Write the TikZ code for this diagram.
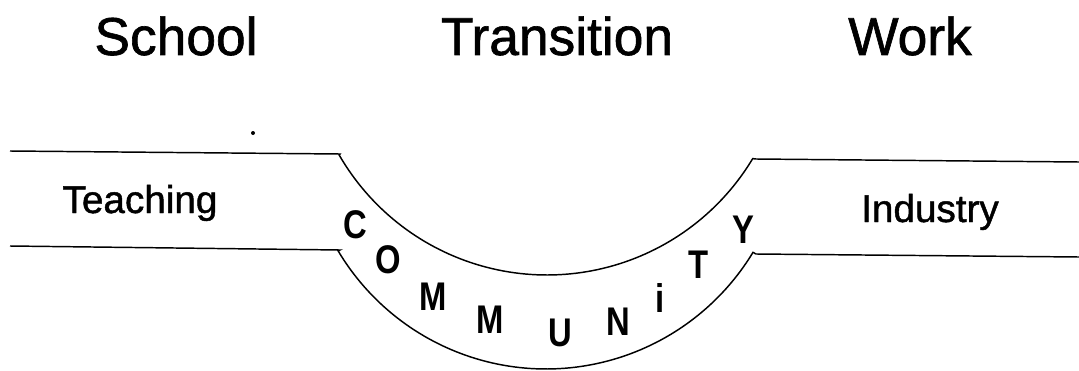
\documentclass[tikz,border=0pt]{standalone}
\usepackage{fontspec}
\setmainfont{Liberation Sans}
\newfontfamily\headfont{Liberation Sans}[FakeBold=1.2]
\newfontfamily\commfont{Liberation Sans}[FakeStretch=0.82]
\begin{document}
\begin{tikzpicture}[x=0.75pt,y=-0.75pt,
  band/.style={line width=1.1pt},
  heading/.style={anchor=base,inner sep=0,font=\headfont\fontsize{40}{48}\selectfont},
  sidelabel/.style={anchor=base,inner sep=0,font=\headfont\fontsize{29}{35}\selectfont},
  letter/.style={anchor=base,inner sep=0,font=\commfont\bfseries\fontsize{30}{36}\selectfont}]
\useasboundingbox (0,0) rectangle (1079,371);
% headings
\node[heading] (school) at (176,55) {School};
\node[heading] (transition) at (557,55) {Transition};
\node[heading] (work) at (910,55) {Work};
% band
\draw[band] (10,151) -- (340,154)
  -- plot[domain=210:329,samples=90] ({547+240*cos(\x)},{35-240*sin(\x)})
  -- (756,159) -- (1079,162);
\draw[band] (10,246) -- (340,250)
  -- plot[domain=210.8:328.8,samples=90] ({546+242*cos(\x)},{127-242*sin(\x)})
  -- (756,254) -- (1079,257);
% side labels
\node[sidelabel] (teaching) at (140,213) {Teaching};
\node[sidelabel] (industry) at (930,222) {Industry};
% community letters
\node[letter] (c1) at (355,238) {C};
\node[letter] (o1) at (388,273) {O};
\node[letter] (m1) at (433,310) {M};
\node[letter] (m2) at (490,333) {M};
\node[letter] (u1) at (560,346) {U};
\node[letter] (n1) at (618,335) {N};
\node[letter] (i1) at (660,312) {i};
\node[letter] (t1) at (699,278) {T};
\node[letter] (y1) at (743,243) {Y};
% stray dot
\fill (253,133) circle[radius=2];
\end{tikzpicture}
\end{document}
